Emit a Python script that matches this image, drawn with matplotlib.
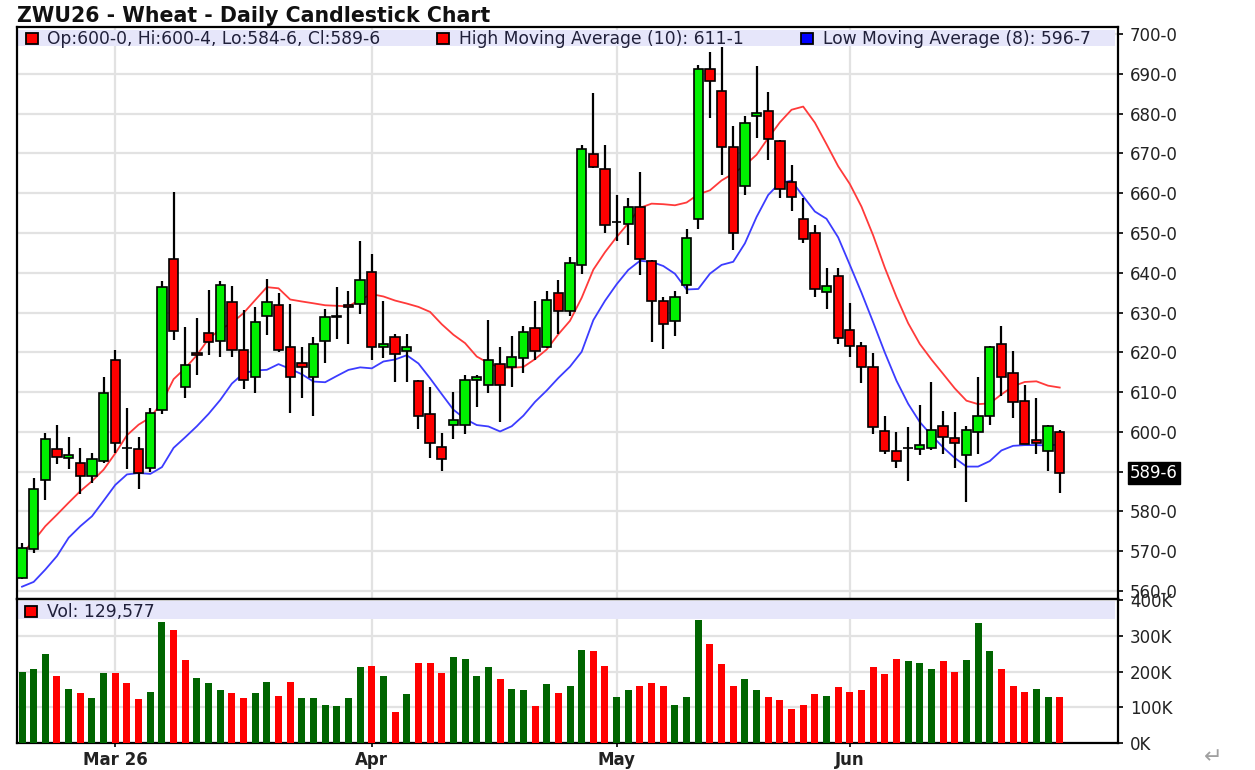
import numpy as np
import pandas as pd
import matplotlib
matplotlib.use("Agg")
import matplotlib.pyplot as plt
import matplotlib.transforms as mtransforms
from matplotlib.patches import Rectangle

# === Daily OHLC, ZWU26 (cents/bu) ===
opens = [563.2, 570.5, 587.9, 595.7, 593.4, 592.1, 589.0, 592.6, 618.1, 595.9,
         595.7, 590.9, 605.6, 643.5, 611.2, 619.8, 624.9, 622.8, 632.6, 620.5,
         613.8, 629.0, 632.0, 621.3, 617.4, 613.8, 622.8, 628.9, 632.0, 632.1,
         640.3, 621.4, 623.8, 620.3, 612.7, 604.4, 596.2, 601.6, 601.6, 613.0,
         611.8, 617.0, 616.4, 618.6, 626.2, 621.4, 634.9, 630.4, 641.9, 669.9,
         666.0, 652.8, 652.2, 656.5, 643.0, 632.8, 627.9, 636.9, 653.4, 691.3,
         685.6, 671.7, 661.8, 679.5, 680.6, 673.1, 662.9, 653.4, 650.1, 635.2,
         639.2, 625.6, 621.6, 616.4, 600.1, 595.1, 595.9, 595.7, 595.9, 601.5,
         598.4, 594.2, 599.9, 603.9, 622.1, 614.9, 607.7, 598.0, 595.3, 600.0]
highs = [572.1, 588.3, 599.7, 601.8, 598.7, 595.9, 594.7, 613.8, 620.6, 605.9,
         598.7, 606.1, 637.8, 660.2, 626.4, 628.5, 635.7, 637.8, 636.7, 630.7,
         631.4, 638.5, 634.9, 632.1, 621.4, 623.9, 630.8, 636.4, 635.4, 647.9,
         644.7, 632.8, 624.6, 624.6, 613.0, 611.3, 599.8, 610.0, 614.3, 614.3,
         628.2, 621.4, 624.2, 626.6, 632.8, 635.4, 638.1, 643.9, 672.0, 685.1,
         672.0, 659.6, 658.9, 665.3, 643.3, 634.0, 635.4, 650.9, 692.3, 695.4,
         696.8, 677.0, 679.5, 691.9, 685.4, 673.4, 667.0, 658.9, 651.9, 641.3,
         641.3, 632.3, 622.6, 619.8, 604.1, 599.9, 601.1, 606.8, 612.6, 605.2,
         604.9, 601.4, 613.9, 621.6, 626.7, 620.4, 611.9, 608.4, 601.7, 600.5]
lows = [562.9, 569.6, 582.8, 591.8, 590.7, 584.3, 587.2, 592.2, 594.7, 590.7,
        585.7, 589.9, 604.4, 623.0, 608.6, 614.4, 619.4, 618.7, 618.7, 610.8,
        609.8, 624.4, 620.0, 604.8, 608.6, 604.0, 617.4, 623.4, 622.0, 629.5,
        618.0, 618.6, 612.6, 612.6, 600.8, 593.5, 590.2, 598.3, 599.4, 606.3,
        609.8, 602.5, 611.3, 614.7, 618.0, 621.1, 624.7, 629.1, 639.6, 666.2,
        650.1, 648.0, 646.9, 639.4, 622.5, 620.8, 624.0, 634.6, 651.1, 678.8,
        664.5, 645.7, 659.5, 673.9, 668.3, 658.9, 655.4, 647.4, 634.0, 631.0,
        622.1, 618.7, 612.4, 599.5, 594.4, 590.8, 587.6, 594.2, 595.5, 594.4,
        591.0, 582.3, 594.4, 601.8, 609.0, 603.5, 597.0, 594.4, 590.1, 584.75]
closes = [570.9, 585.7, 598.3, 593.6, 594.1, 589.0, 593.2, 609.8, 597.2, 595.9,
          589.7, 604.8, 636.3, 625.3, 616.9, 619.2, 622.7, 637.0, 620.7, 613.1,
          627.7, 632.7, 620.5, 613.8, 616.2, 622.0, 628.9, 629.0, 631.4, 638.1,
          621.4, 622.0, 619.5, 621.4, 604.1, 597.3, 593.1, 603.0, 613.0, 613.8,
          618.0, 611.8, 618.8, 625.1, 620.4, 633.1, 630.4, 642.5, 671.0, 666.6,
          651.9, 652.8, 656.5, 643.4, 632.9, 627.2, 634.0, 648.7, 691.3, 688.2,
          671.7, 649.9, 677.7, 680.2, 673.5, 661.0, 659.1, 648.4, 635.9, 636.7,
          623.6, 621.5, 616.4, 601.1, 595.3, 592.8, 595.9, 596.7, 600.5, 598.6,
          597.1, 600.5, 604.1, 621.4, 613.8, 607.4, 597.0, 597.1, 601.5, 589.75]
volumes = [200000, 207000, 248000, 188000, 151000, 140000, 127000, 196000, 196000, 168000,
           124000, 144000, 339000, 316000, 232000, 183000, 168000, 148000, 140000, 127000,
           140000, 172000, 132000, 172000, 127000, 127000, 107000, 104000, 127000, 212000,
           216000, 188000, 88000, 136000, 224000, 224000, 196000, 240000, 236000, 188000,
           212000, 179000, 151000, 148000, 104000, 164000, 140000, 160000, 260000, 256000,
           216000, 128000, 148000, 160000, 168000, 160000, 107000, 128000, 344000, 276000,
           220000, 160000, 179000, 148000, 128000, 120000, 96000, 107000, 136000, 132000,
           156000, 144000, 148000, 212000, 192000, 236000, 228000, 224000, 207000, 228000,
           200000, 232000, 336000, 256000, 207000, 160000, 144000, 151000, 128000, 129577]

# sessions before the window, only used to seed the moving averages
prior_highs = [557.3, 562.7, 572.8, 568.7, 566.9, 569.7, 584.8, 579.6, 560.4]
prior_lows = [560.0, 558.0, 564.6, 553.9, 561.1, 567.2, 561.0]
prior_close = 565.0

month_idx = [8, 30, 51, 71]
month_labels = ["Mar 26", "Apr", "May", "Jun"]
price_ticks = list(range(560, 701, 10))
vol_ticks = [0, 100000, 200000, 300000, 400000]

HI_N, LO_N = 10, 8

# === Derived series ===
o = np.array(opens); h = np.array(highs); l = np.array(lows); c = np.array(closes)
x = np.arange(len(o))
ma_hi = pd.Series(np.r_[prior_highs, h]).rolling(HI_N).mean().to_numpy()[len(prior_highs):]
ma_lo = pd.Series(np.r_[prior_lows, l]).rolling(LO_N).mean().to_numpy()[len(prior_lows):]
prev_c = np.r_[prior_close, c[:-1]]


def fmt_price(v):
    whole = int(np.floor(v))
    eighth = int(round((v - whole) * 8))
    if eighth == 8:
        whole, eighth = whole + 1, 0
    return f"{whole}-{eighth}"


GREEN, RED = "#00f000", "#ff0000"
VGREEN, VRED = "#006400", "#ff0000"
GRID = "#e2e2e2"
TXT = "#222222"
BAND = "#e6e6fa"

plt.rcParams["font.family"] = ["DejaVu Sans"]

W, H = 1255, 770
fig = plt.figure(figsize=(W / 100, H / 100), dpi=100)


def fx(px):
    return px / W


def fy(py):
    return 1 - py / H


ax_p = fig.add_axes([fx(17), fy(599), fx(1118) - fx(17), fy(27) - fy(599)])
ax_v = fig.add_axes([fx(17), fy(743), fx(1118) - fx(17), fy(599) - fy(743)], sharex=ax_p)

# --- price panel ---
up = c > o
body_lo = np.minimum(o, c)
body_h = np.abs(c - o)
ax_p.vlines(x, l, h, color="black", lw=1.6, zorder=3)
ax_p.bar(x, body_h, bottom=body_lo, width=0.8,
         color=np.where(up, GREEN, RED), edgecolor="black", linewidth=1.2, zorder=4)
ax_p.plot(x, ma_hi, color="#ff3a3a", lw=1.3, zorder=2)
ax_p.plot(x, ma_lo, color="#3c3cff", lw=1.3, zorder=2)

ax_p.set_xlim(-0.43, 94.0)
ax_p.set_ylim(557.99, 701.76)
ax_p.set_yticks(price_ticks)
ax_p.set_yticklabels([fmt_price(v) for v in price_ticks])

# --- volume panel ---
vol_up = c >= prev_c
ax_v.bar(x, volumes, width=0.6, color=np.where(vol_up, VGREEN, VRED), zorder=3)
ax_v.set_ylim(0, 402800)
ax_v.set_yticks(vol_ticks)
ax_v.set_yticklabels([f"{v // 1000}K" for v in vol_ticks])
ax_v.set_xticks(month_idx)
ax_v.set_xticklabels(month_labels, fontweight="bold", fontsize=12, color=TXT)

for ax in (ax_p, ax_v):
    ax.set_axisbelow(True)
    ax.grid(True, color=GRID, lw=1.6)
    ax.set_xticks(month_idx)
    ax.yaxis.tick_right()
    ax.tick_params(axis="y", direction="out", length=3.5, width=1.2, pad=5,
                   labelsize=12, labelcolor=TXT)
    for s in ax.spines.values():
        s.set_color("black")
        s.set_linewidth(1.6)
ax_p.tick_params(axis="x", length=0, labelbottom=False)
ax_v.tick_params(axis="x", direction="out", length=3, width=1.2, pad=3)

# legend bands
ax_p.add_patch(Rectangle((0, (599 - 46) / 572), (1115 - 17) / 1101, 16 / 572,
                         transform=ax_p.transAxes, color=BAND, zorder=1.5, lw=0))
ax_v.add_patch(Rectangle((0, (743 - 619) / 144), (1115 - 17) / 1101, 18 / 144,
                         transform=ax_v.transAxes, color=BAND, zorder=1.5, lw=0))


def legend_item(px, py, color, text, tx):
    fig.patches.append(Rectangle((fx(px), fy(py + 11)), fx(12), 11 / H, facecolor=color,
                                 edgecolor="black", lw=1.3, transform=fig.transFigure,
                                 figure=fig, zorder=10))
    fig.text(fx(tx), fy(py + 11), text, fontsize=12.3, color="#20203a", va="baseline")


legend_item(26, 33, RED, f"Op:{fmt_price(o[-1])}, Hi:{fmt_price(h[-1])}, "
            f"Lo:{fmt_price(l[-1])}, Cl:{fmt_price(c[-1])}", 47)
legend_item(437, 33, RED, f"High Moving Average ({HI_N}): {fmt_price(ma_hi[-1])}", 459)
legend_item(801, 33, "#0000ff", f"Low Moving Average ({LO_N}): {fmt_price(ma_lo[-1])}", 823)
legend_item(25, 606, RED, f"Vol: {volumes[-1]:,}", 47)

# last price tag
trans = mtransforms.blended_transform_factory(ax_p.transAxes, ax_p.transData)
trans = mtransforms.offset_copy(trans, fig=fig, x=12, y=0, units="dots")
ax_p.text(1.0, c[-1], fmt_price(c[-1]), transform=trans, ha="left", va="center",
          fontsize=12, color="white", clip_on=False, zorder=10,
          bbox=dict(boxstyle="square,pad=0.12", facecolor="black", edgecolor="black"))

fig.text(fx(17), fy(22), "ZWU26 - Wheat - Daily Candlestick Chart",
         fontsize=14.8, fontweight="bold", color="#111111", va="baseline")
fig.text(fx(1213), fy(757), "\u21b5", fontsize=16, color="#a0a0a0", ha="center", va="center")

fig.savefig("out.png", dpi=100)
